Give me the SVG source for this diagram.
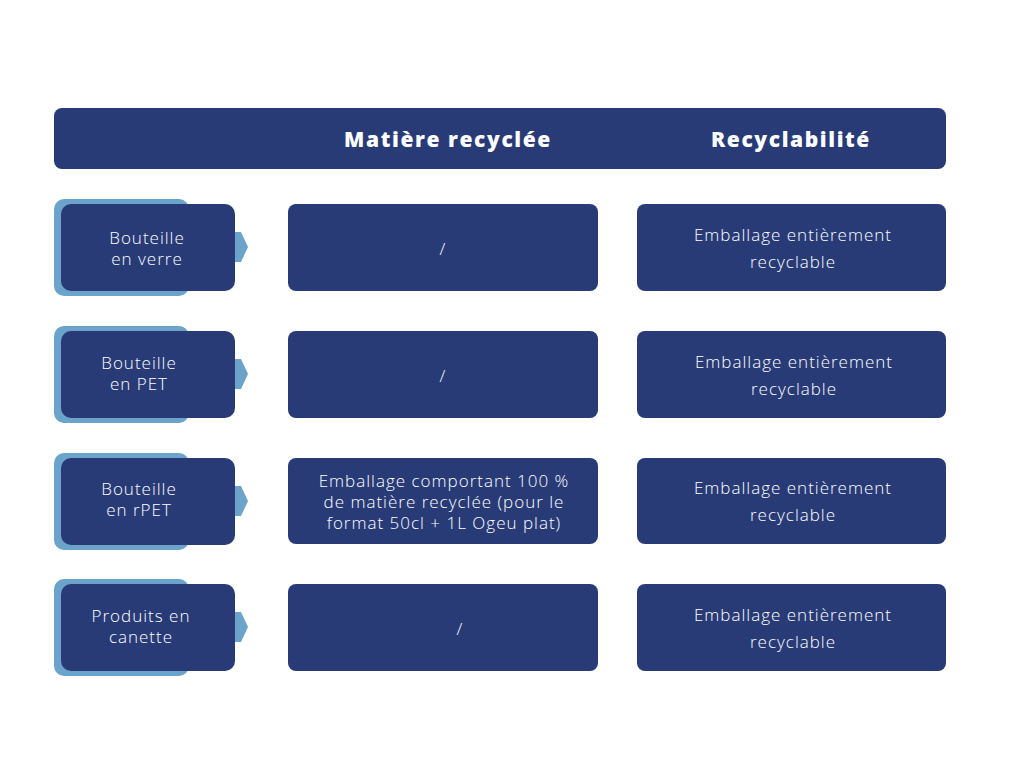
<svg xmlns="http://www.w3.org/2000/svg" width="1024" height="768" viewBox="0 0 1024 768">
<style>
.dk{fill:#283B77}
.lt{fill:#6BA3CB}
.t{font-family:"Open Sans","Liberation Sans",sans-serif;font-size:17px;font-weight:300;letter-spacing:1px;fill:#ffffff;text-anchor:middle}
.h{font-family:"Open Sans","Liberation Sans",sans-serif;font-size:21px;font-weight:800;letter-spacing:1.6px;fill:#ffffff;text-anchor:middle}
</style>
<rect width="1024" height="768" fill="#ffffff"/>
<g id="header">
<rect class="dk" x="54" y="108" width="892" height="61" rx="8"/>
<text class="h" x="448" y="147">Matière recyclée</text>
<text class="h" x="791" y="147">Recyclabilité</text>
</g>
<g id="connectors">
<path class="lt" d="M228,232 H241 L248,247 L241,262 H228 Z"/>
<path class="lt" d="M228,359 H241 L248,374 L241,389 H228 Z"/>
<path class="lt" d="M228,486 H241 L248,501 L241,516 H228 Z"/>
<path class="lt" d="M228,612 H241 L248,627 L241,642 H228 Z"/>
</g>
<g id="row1">
<rect class="lt" x="54" y="199" width="135" height="97" rx="10"/>
<rect class="dk" x="61" y="204" width="174" height="87" rx="10"/>
<text class="t" x="147" y="244">Bouteille</text>
<text class="t" x="147" y="265">en verre</text>
</g>
<g id="row1-mat">
<rect class="dk" x="288" y="204" width="310" height="87" rx="8"/>
<text class="t" x="443" y="255">/</text>
</g>
<g id="row1-rec">
<rect class="dk" x="637" y="204" width="309" height="87" rx="8"/>
<text class="t" x="793" y="241">Emballage entièrement</text>
<text class="t" x="793" y="268">recyclable</text>
</g>
<g id="row2">
<rect class="lt" x="54" y="326" width="135" height="97" rx="10"/>
<rect class="dk" x="61" y="331" width="174" height="87" rx="10"/>
<text class="t" x="139" y="369">Bouteille</text>
<text class="t" x="139" y="390">en PET</text>
</g>
<g id="row2-mat">
<rect class="dk" x="288" y="331" width="310" height="87" rx="8"/>
<text class="t" x="443" y="382">/</text>
</g>
<g id="row2-rec">
<rect class="dk" x="637" y="331" width="309" height="87" rx="8"/>
<text class="t" x="794" y="368">Emballage entièrement</text>
<text class="t" x="794" y="395">recyclable</text>
</g>
<g id="row3">
<rect class="lt" x="54" y="453" width="135" height="97" rx="10"/>
<rect class="dk" x="61" y="458" width="174" height="87" rx="10"/>
<text class="t" x="139" y="495">Bouteille</text>
<text class="t" x="139" y="516">en rPET</text>
</g>
<g id="row3-mat">
<rect class="dk" x="288" y="458" width="310" height="86" rx="8"/>
<text class="t" x="444" y="487">Emballage comportant 100 %</text>
<text class="t" x="444" y="508">de matière recyclée (pour le</text>
<text class="t" x="444" y="529">format 50cl + 1L Ogeu plat)</text>
</g>
<g id="row3-rec">
<rect class="dk" x="637" y="458" width="309" height="86" rx="8"/>
<text class="t" x="793" y="494">Emballage entièrement</text>
<text class="t" x="793" y="521">recyclable</text>
</g>
<g id="row4">
<rect class="lt" x="54" y="579" width="135" height="97" rx="10"/>
<rect class="dk" x="61" y="584" width="174" height="87" rx="10"/>
<text class="t" x="141" y="622">Produits en</text>
<text class="t" x="141" y="643">canette</text>
</g>
<g id="row4-mat">
<rect class="dk" x="288" y="584" width="310" height="87" rx="8"/>
<text class="t" x="460" y="635">/</text>
</g>
<g id="row4-rec">
<rect class="dk" x="637" y="584" width="309" height="87" rx="8"/>
<text class="t" x="793" y="621">Emballage entièrement</text>
<text class="t" x="793" y="648">recyclable</text>
</g>
</svg>
